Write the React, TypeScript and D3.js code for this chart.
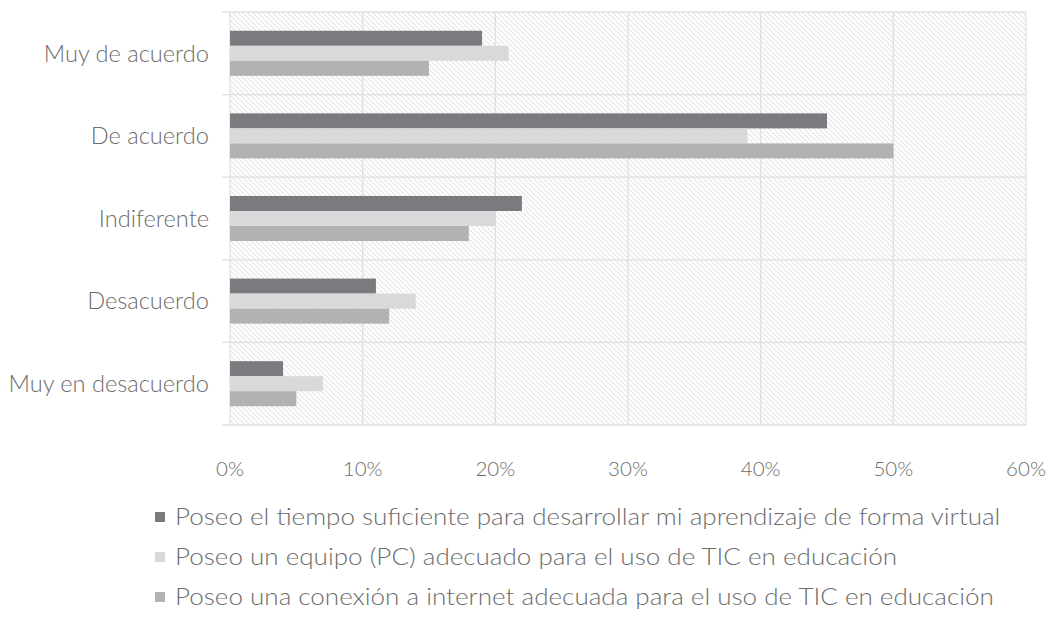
import React, { useEffect, useRef } from 'react';
import * as d3 from 'd3';

const categories = ['Muy de acuerdo', 'De acuerdo', 'Indiferente', 'Desacuerdo', 'Muy en desacuerdo'];
const seriesNames = [
  'Poseo el tiempo suficiente para desarrollar mi aprendizaje de forma virtual',
  'Poseo un equipo (PC) adecuado para el uso de TIC en educación',
  'Poseo una conexión a internet adecuada para el uso de TIC en educación',
];
const tiempo = [19, 45, 22, 11, 4];
const equipo = [21, 39, 20, 14, 7];
const conexion = [15, 50, 18, 12, 5];
const seriesColors = ['#7b7b7f', '#d9d9db', '#b2b2b5'];
const xTicks = [0, 10, 20, 30, 40, 50, 60];

const FONT = 'Lato, "Open Sans", sans-serif';
const TEXT = '#6c6c6c';

export default function App() {
  const ref = useRef<SVGSVGElement>(null);

  useEffect(() => {
    const svg = d3.select(ref.current);
    svg.selectAll('*').remove();

    const left = 230, right = 1026, top = 12, bottom = 425;
    const allSeries = [tiempo, equipo, conexion];

    const x = d3.scaleLinear().domain([0, 60]).range([left, right]);
    const y = d3.scaleBand().domain(categories).range([top, bottom]);
    const inner = d3.scaleBand<number>().domain([0, 1, 2]).range([0, y.bandwidth()]).paddingOuter(1.25);

    const defs = svg.append('defs');
    const pat = defs.append('pattern')
      .attr('id', 'hatch')
      .attr('patternUnits', 'userSpaceOnUse')
      .attr('width', 5)
      .attr('height', 5);
    pat.append('rect').attr('width', 5).attr('height', 5).attr('fill', '#ffffff');
    pat.append('path')
      .attr('d', 'M-1,-1 L6,6 M-1,4 L1,6 M4,-1 L6,1')
      .attr('stroke', '#e6e6e6')
      .attr('stroke-width', 1.2);

    svg.append('rect')
      .attr('x', left).attr('y', top)
      .attr('width', right - left).attr('height', bottom - top)
      .attr('fill', 'url(#hatch)');

    // grid
    svg.append('g').selectAll('line')
      .data(xTicks)
      .join('line')
      .attr('x1', d => x(d)).attr('x2', d => x(d))
      .attr('y1', top).attr('y2', bottom)
      .attr('stroke', '#e0e0e0').attr('stroke-width', 1.3);

    const bounds = categories.map(c => y(c) as number).concat([bottom]);
    svg.append('g').selectAll('line')
      .data(bounds)
      .join('line')
      .attr('x1', left - 8).attr('x2', right)
      .attr('y1', d => d).attr('y2', d => d)
      .attr('stroke', '#e0e0e0').attr('stroke-width', 1.3);

    // bars
    allSeries.forEach((vals, si) => {
      svg.append('g').selectAll('rect')
        .data(vals)
        .join('rect')
        .attr('x', x(0))
        .attr('y', (d, i) => (y(categories[i]) as number) + (inner(si) as number))
        .attr('width', d => x(d) - x(0))
        .attr('height', inner.bandwidth())
        .attr('fill', seriesColors[si]);
    });

    // category labels
    svg.append('g').selectAll('text')
      .data(categories)
      .join('text')
      .attr('x', 209)
      .attr('y', d => (y(d) as number) + y.bandwidth() / 2)
      .attr('dy', '0.35em')
      .attr('text-anchor', 'end')
      .attr('font-family', FONT)
      .attr('font-weight', 300)
      .attr('font-size', 23.6)
      .attr('fill', TEXT)
      .text(d => d);

    // x tick labels
    svg.append('g').selectAll('text')
      .data(xTicks)
      .join('text')
      .attr('x', d => x(d))
      .attr('y', 469)
      .attr('dy', '0.35em')
      .attr('text-anchor', 'middle')
      .attr('font-family', FONT)
      .attr('font-weight', 300)
      .attr('font-size', 20.5)
      .attr('fill', TEXT)
      .text(d => `${d}%`);

    // legend
    const leg = svg.append('g').selectAll('g')
      .data(seriesNames)
      .join('g')
      .attr('transform', (d, i) => `translate(155, ${517 + i * 40})`);
    leg.append('rect')
      .attr('x', 0).attr('y', -5)
      .attr('width', 10).attr('height', 10)
      .attr('fill', (d, i) => seriesColors[i]);
    leg.append('text')
      .attr('transform', 'translate(20, 0) scale(1.157, 1)')
      .attr('dy', '0.35em')
      .attr('font-family', FONT)
      .attr('font-weight', 300)
      .attr('font-size', 22.5)
      .attr('fill', TEXT)
      .text(d => d);
  }, []);

  return (
    <svg ref={ref} width={1051} height={630} style={{ position: 'absolute', left: 0, top: 0 }} />
  );
}
